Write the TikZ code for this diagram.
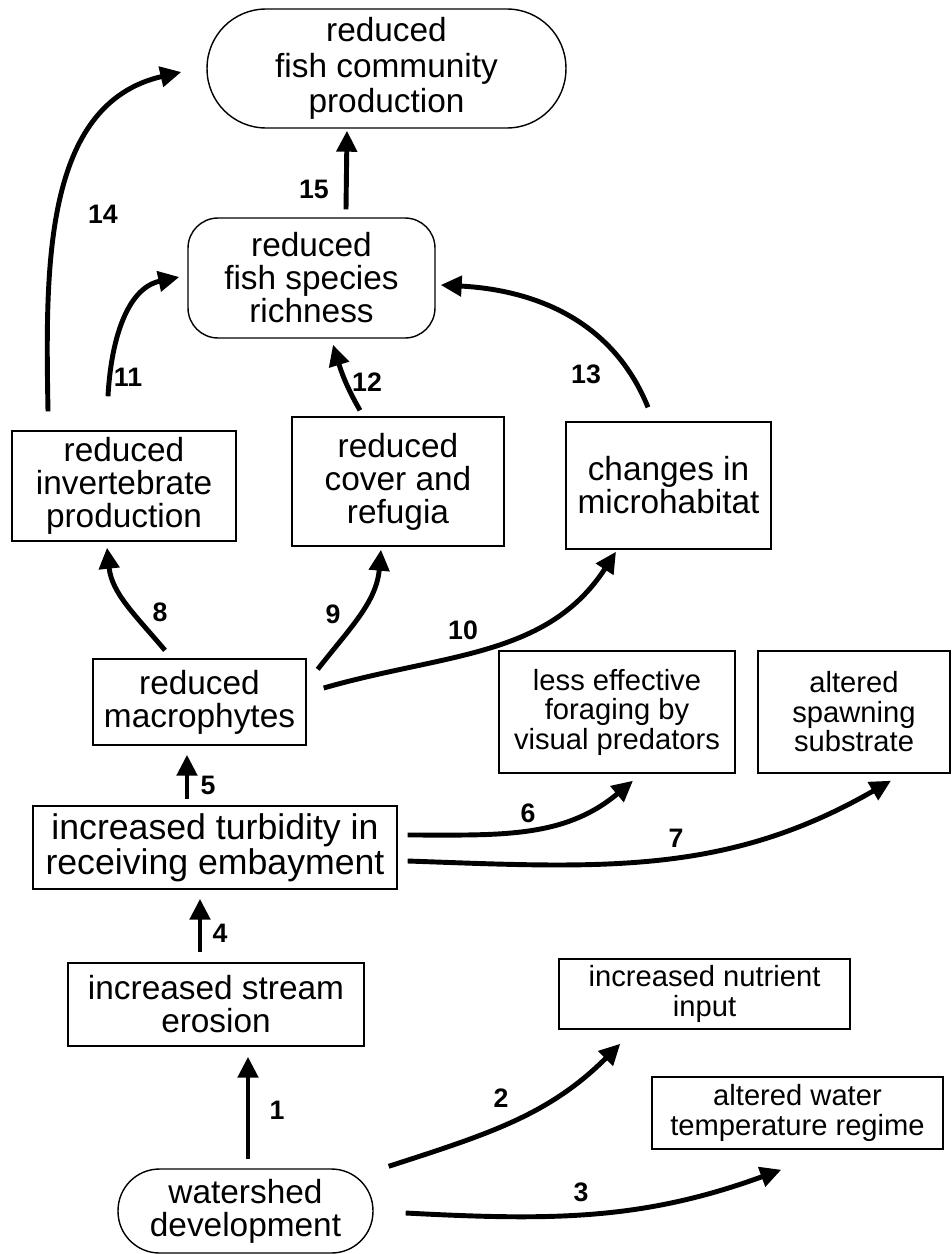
\documentclass[tikz,border=0pt]{standalone}
\usepackage{fontspec}
\setmainfont{Liberation Sans}
\usetikzlibrary{arrows.meta,calc}

\tikzset{
  box/.style={draw, line width=0.8pt, align=center, inner sep=0pt,
    font=\fontsize{19}{18.8}\selectfont},
  smalltext/.style={font=\fontsize{16.6}{16.8}\selectfont},
  pill/.style={box, rounded corners=#1},
  link/.style={line width=2.8pt, -{Triangle[length=0.42cm, width=0.4cm]}},
  num/.style={font=\fontsize{15.2}{15}\selectfont\bfseries, inner sep=0pt}
}

\begin{document}
\begin{tikzpicture}[x=0.02cm, y=-0.02cm]
\useasboundingbox (0,0) rectangle (952,1254);

\node[pill=1.18cm, minimum width=7.18cm, minimum height=2.38cm,
  font=\fontsize{19}{20}\selectfont] (prod) at (386.5,68.5)
  {reduced\\fish community\\production};
\node[pill=0.6cm, minimum width=4.94cm, minimum height=2.4cm] (rich) at (311.5,278)
  {reduced\\fish species\\richness};
\node[box, minimum width=4.48cm, minimum height=2.2cm] (invert) at (124,486)
  {reduced\\invertebrate\\production};
\node[box, minimum width=4.24cm, minimum height=2.58cm] (cover) at (398,481.5)
  {reduced\\cover and\\refugia};
\node[box, minimum width=4.1cm, minimum height=2.54cm] (micro) at (668.5,485.5)
  {changes in\\microhabitat};
\node[box, minimum width=4.26cm, minimum height=1.72cm] (macro) at (199.5,702)
  {reduced\\macrophytes};
\node[box, smalltext, minimum width=4.72cm, minimum height=2.44cm] (forage) at (617,712)
  {less effective\\foraging by\\visual predators};
\node[box, smalltext, minimum width=3.84cm, minimum height=2.44cm] (spawn) at (854,712)
  {altered\\spawning\\substrate};
\node[box, font=\fontsize{20.3}{20}\selectfont, minimum width=7.28cm, minimum height=1.66cm]
  (turbid) at (215,847.5) {increased turbidity in\\receiving embayment};
\node[box, minimum width=5.92cm, minimum height=1.66cm] (erosion) at (216,1004.5)
  {increased stream\\erosion};
\node[box, smalltext, minimum width=5.82cm, minimum height=1.4cm] (nutrient) at (704.5,994)
  {increased nutrient\\input};
\node[box, smalltext, minimum width=5.82cm, minimum height=1.44cm] (temp) at (797.5,1113)
  {altered water\\temperature regime};
\node[pill=0.83cm, minimum width=5.1cm, minimum height=1.68cm] (water) at (245.5,1211)
  {watershed\\development};

\draw[link] ($(water.north)+(2.5,-9)$) -- ($(water.north |- erosion.south)+(2.5,10)$);
\draw[link] ($(water.north east)+(15,-2)$) to[out=18, in=-135] ($(nutrient.south west)+(62,14)$);
\draw[link] ($(water.east)+(32,2)$) to[out=-3, in=-160] ($(temp.south west)+(130,20)$);
\draw[link] ($(erosion.north)+(-16,-10)$) -- ($(erosion.north |- turbid.south)+(-16,9)$);
\draw[link] ($(turbid.north)+(-28,-6)$) -- ($(turbid.north |- macro.south)+(-28,9)$);
\draw[link] ($(turbid.east)+(10,-12.5)$) to[out=0, in=-140] ($(forage.south)+(16,7)$);
\draw[link] ($(turbid.east)+(10,13.5)$) to[out=-2, in=-150] ($(spawn.south)+(37,7)$);
\draw[link] ($(macro.north)+(-34.5,-8)$) to[out=130, in=-84] ($(invert.south)+(-17,6)$);
\draw[link] ($(macro.north east)+(11,11)$) to[out=52, in=-95] ($(cover.south)+(-17,3)$);
\draw[link] ($(macro.east)+(17,-14)$) to[out=16, in=-123] ($(micro.south)+(-52.5,2)$);
\draw[link] ($(invert.north)+(-16,-34)$) to[out=87, in=192] ($(rich.west)+(-8,-1)$);
\draw[link] ($(cover.north)+(-38,-6)$) to[out=120, in=-73] ($(rich.south)+(21.5,6)$);
\draw[link] ($(micro.north)+(-20.5,-14)$) to[out=112, in=-3] ($(rich.east)+(5,7)$);
\draw[link] ($(invert.north)+(-76,-19)$) to[out=91, in=193] ($(prod.west)+(-25,3.5)$);
\draw[link] ($(rich.north)+(34.5,-8)$) -- ($(rich.north |- prod.south)+(35.5,2)$);

\node[num] (n1) at (277,1110) {1};
\node[num] (n2) at (501,1098) {2};
\node[num] (n3) at (581,1192) {3};
\node[num] (n4) at (220,933) {4};
\node[num] (n5) at (208,785) {5};
\node[num] (n6) at (528,813) {6};
\node[num] (n7) at (676,838) {7};
\node[num] (n8) at (160,612) {8};
\node[num] (n9) at (333,614) {9};
\node[num] (n10) at (463,630) {10};
\node[num] (n11) at (128,377) {11};
\node[num] (n12) at (367,382) {12};
\node[num] (n13) at (586,374) {13};
\node[num] (n14) at (103,214) {14};
\node[num] (n15) at (314,189) {15};
\end{tikzpicture}
\end{document}
